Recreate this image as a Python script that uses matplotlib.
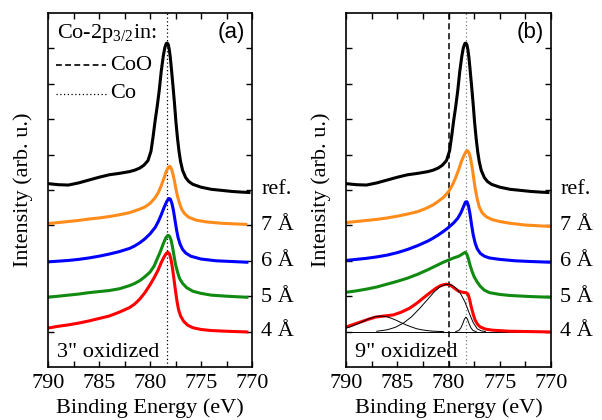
import matplotlib
matplotlib.use("Agg")
import matplotlib.pyplot as plt
from matplotlib.ticker import MultipleLocator

plt.rcParams['font.family'] = ['Liberation Serif', 'DejaVu Serif']
plt.rcParams['mathtext.fontset'] = 'custom'
plt.rcParams['mathtext.rm'] = 'Liberation Serif'
plt.rcParams['mathtext.it'] = 'Liberation Serif'

# ---------------- data (binding energy eV, intensity arb. u.) ----------------
ref_E = [790.0, 789.0, 788.0, 787.0, 786.0, 785.0, 784.0, 783.0, 782.0, 781.5, 781.0,
         780.6, 780.2, 779.9, 779.7, 779.5, 779.3, 779.1, 778.9, 778.7, 778.55, 778.4,
         778.3, 778.2, 778.1, 778.0, 777.9, 777.75, 777.6, 777.45, 777.3, 777.15, 777.0,
         776.8, 776.5, 776.2, 775.8, 775.0, 774.0, 773.0, 772.0, 771.0, 770.3]
ref_I = [5.18, 5.15, 5.14, 5.20, 5.28, 5.36, 5.43, 5.47, 5.52, 5.56, 5.62,
         5.70, 5.83, 6.10, 6.50, 6.95, 7.35, 7.80, 8.35, 8.78, 9.02, 9.14,
         9.15, 9.10, 8.95, 8.72, 8.42, 7.95, 7.45, 6.90, 6.45, 6.08, 5.80,
         5.55, 5.35, 5.24, 5.16, 5.08, 5.02, 4.99, 4.96, 4.94, 4.93]

# panel (a): 3" oxidized
a7_E = [790.0, 789.0, 788.0, 787.0, 786.0, 785.0, 784.0, 783.0, 782.0, 781.5, 781.0,
        780.5, 780.0, 779.5, 779.2, 778.9, 778.6, 778.4, 778.2, 778.05, 777.9, 777.75,
        777.6, 777.45, 777.3, 777.1, 776.9, 776.6, 776.2, 775.5, 774.5, 773.0, 771.5, 770.6]
a7_I = [4.05, 4.08, 4.11, 4.14, 4.18, 4.21, 4.25, 4.30, 4.36, 4.41, 4.46,
        4.52, 4.62, 4.78, 4.92, 5.12, 5.36, 5.53, 5.64, 5.67, 5.60, 5.45,
        5.25, 5.02, 4.82, 4.62, 4.46, 4.33, 4.23, 4.15, 4.10, 4.06, 4.04, 4.03]
a6_E = [790.0, 789.0, 788.0, 787.0, 786.0, 785.0, 784.0, 783.0, 782.0, 781.5, 781.0,
        780.5, 780.0, 779.5, 779.2, 778.9, 778.6, 778.35, 778.15, 778.0, 777.85, 777.7,
        777.55, 777.4, 777.25, 777.05, 776.8, 776.5, 776.0, 775.0, 773.5, 772.0, 770.5]
a6_I = [2.97, 2.99, 3.01, 3.04, 3.08, 3.13, 3.19, 3.26, 3.35, 3.42, 3.51,
        3.62, 3.76, 3.94, 4.10, 4.30, 4.52, 4.68, 4.76, 4.74, 4.62, 4.42,
        4.15, 3.88, 3.66, 3.47, 3.32, 3.22, 3.13, 3.05, 3.00, 2.98, 2.96]
a5_E = [790.0, 789.0, 788.0, 787.0, 786.0, 785.0, 784.0, 783.0, 782.0, 781.5, 781.0,
        780.5, 780.0, 779.6, 779.3, 779.0, 778.7, 778.45, 778.25, 778.1, 777.95, 777.8,
        777.65, 777.5, 777.3, 777.1, 776.8, 776.4, 775.8, 775.0, 774.0, 772.5, 770.5]
a5_I = [1.97, 2.00, 2.03, 2.06, 2.10, 2.13, 2.16, 2.21, 2.30, 2.36, 2.44,
        2.55, 2.68, 2.85, 3.05, 3.25, 3.48, 3.65, 3.72, 3.70, 3.60, 3.40,
        3.15, 2.90, 2.68, 2.50, 2.36, 2.24, 2.14, 2.08, 2.03, 2.00, 1.97]
a4_E = [790.0, 789.0, 788.0, 787.0, 786.0, 785.0, 784.0, 783.0, 782.0, 781.5, 781.0,
        780.5, 780.0, 779.6, 779.2, 778.9, 778.6, 778.4, 778.25, 778.1, 777.95, 777.8,
        777.65, 777.5, 777.35, 777.2, 777.0, 776.7, 776.3, 775.8, 775.0, 774.0, 772.5, 770.5]
a4_I = [1.10, 1.15, 1.19, 1.24, 1.30, 1.37, 1.44, 1.55, 1.68, 1.78, 1.92,
        2.10, 2.32, 2.52, 2.74, 2.95, 3.12, 3.21, 3.24, 3.20, 3.05, 2.80,
        2.48, 2.15, 1.85, 1.62, 1.44, 1.29, 1.18, 1.11, 1.06, 1.03, 1.01, 0.99]

# panel (b): 9" oxidized
b7_E = [790.0, 789.0, 788.0, 787.0, 786.0, 785.0, 784.0, 783.0, 782.2, 781.5, 781.0,
        780.5, 780.0, 779.6, 779.3, 779.0, 778.75, 778.5, 778.3, 778.15, 778.0, 777.85,
        777.7, 777.55, 777.4, 777.2, 777.0, 776.7, 776.3, 775.7, 775.0, 774.0, 772.5, 770.1]
b7_I = [4.08, 4.11, 4.14, 4.17, 4.21, 4.26, 4.32, 4.39, 4.48, 4.58, 4.68,
        4.79, 4.95, 5.15, 5.35, 5.58, 5.80, 5.97, 6.08, 6.11, 6.05, 5.90,
        5.65, 5.35, 5.05, 4.75, 4.52, 4.35, 4.24, 4.16, 4.11, 4.06, 4.01, 3.97]
b6_E = [790.0, 789.0, 788.0, 787.0, 786.0, 785.0, 784.0, 783.0, 782.0, 781.5, 781.0,
        780.5, 780.0, 779.5, 779.1, 778.8, 778.55, 778.35, 778.2, 778.05, 777.9, 777.75,
        777.6, 777.4, 777.2, 776.9, 776.5, 776.0, 775.0, 773.5, 772.0, 770.1]
b6_I = [3.01, 3.04, 3.07, 3.11, 3.16, 3.23, 3.32, 3.43, 3.56, 3.64, 3.73,
        3.83, 3.94, 4.07, 4.20, 4.35, 4.52, 4.66, 4.67, 4.55, 4.32, 4.02,
        3.75, 3.50, 3.34, 3.21, 3.13, 3.08, 3.04, 3.00, 2.98, 2.96]
b5_E = [790.0, 789.0, 788.0, 787.0, 786.0, 785.0, 784.0, 783.0, 782.0, 781.5, 781.0,
        780.5, 780.0, 779.5, 779.0, 778.7, 778.5, 778.35, 778.2, 778.05, 777.9, 777.7,
        777.5, 777.2, 776.9, 776.5, 776.0, 775.0, 774.0, 772.0, 770.1]
b5_I = [2.11, 2.15, 2.20, 2.26, 2.34, 2.42, 2.51, 2.62, 2.75, 2.82, 2.89,
        2.96, 3.02, 3.08, 3.13, 3.18, 3.22, 3.24, 3.18, 3.05, 2.88, 2.70,
        2.55, 2.40, 2.28, 2.17, 2.10, 2.05, 2.02, 1.99, 1.97]
b4_E = [790.0, 789.3, 788.6, 787.8, 787.1, 786.3, 785.4, 784.6, 783.8, 783.1, 782.5,
        781.8, 781.2, 780.7, 780.2, 779.8, 779.4, 779.0, 778.6, 778.3, 778.1, 777.95,
        777.8, 777.6, 777.4, 777.15, 776.9, 776.4, 775.7, 774.0, 772.0, 770.1]
b4_I = [1.13, 1.20, 1.27, 1.35, 1.41, 1.44, 1.47, 1.55, 1.66, 1.80, 1.94,
        2.10, 2.23, 2.31, 2.34, 2.31, 2.22, 2.14, 2.11, 2.10, 2.06, 1.92,
        1.72, 1.50, 1.32, 1.20, 1.13, 1.07, 1.04, 1.01, 1.00, 0.99]

# fit components for 4 A (panel b)
fit_base = 1.0
sat_E = [790.0, 789.6, 789.1, 788.6, 788.1, 787.6, 787.1, 786.6, 786.1, 785.6, 785.1,
         784.6, 784.1, 783.6, 783.1, 782.6, 782.1, 781.6, 781.1, 780.5]
sat_I = [1.10, 1.13, 1.19, 1.25, 1.32, 1.38, 1.425, 1.44, 1.425, 1.38, 1.32,
         1.25, 1.185, 1.13, 1.08, 1.05, 1.03, 1.014, 1.007, 1.00]
oxo_E = [787.0, 786.0, 785.2, 784.4, 783.6, 782.8, 782.0, 781.4, 780.9, 780.4, 780.0,
         779.6, 779.2, 778.8, 778.4, 778.0, 777.6, 777.2, 776.8, 776.4]
oxo_I = [1.01, 1.05, 1.12, 1.24, 1.42, 1.66, 1.92, 2.12, 2.25, 2.32, 2.34,
         2.30, 2.21, 2.06, 1.84, 1.54, 1.26, 1.08, 1.02, 1.00]
met_E = [779.3, 779.0, 778.8, 778.6, 778.45, 778.3, 778.15, 778.0, 777.8, 777.6, 777.3]
met_I = [1.00, 1.03, 1.10, 1.23, 1.35, 1.41, 1.35, 1.23, 1.10, 1.03, 1.00]

Co_line = 778.3
CoO_line = 780.0
labels = ['ref.', '7 Å', '6 Å', '5 Å', '4 Å']
label_y = [5.0, 4.0, 2.97, 1.97, 0.99]

colors = {'ref': 'black', '7': '#ff8c1a', '6': '#0000ff', '5': '#118a11', '4': '#ff0000'}

fig = plt.figure(figsize=(6.02, 4.20), dpi=100)
axA = fig.add_axes([48/602, 53/420, 204/602, 354/420])
axB = fig.add_axes([346/602, 53/420, 205/602, 354/420])

lw = 2.2
FS = 16


def style(ax):
    ax.set_xlim(790, 770)
    ax.set_ylim(0, 10)
    ax.xaxis.set_major_locator(MultipleLocator(5))
    ax.xaxis.set_minor_locator(MultipleLocator(2.5))
    ax.set_yticks(range(1, 10))
    ax.set_yticklabels([])
    ax.tick_params(which='both', direction='in', top=True, right=True, length=4,
                   width=1.0, labelsize=FS, pad=5)
    for s in ax.spines.values():
        s.set_linewidth(1.2)
    ax.set_xlabel('Binding Energy (eV)', fontsize=FS, labelpad=4)
    ax.set_ylabel('Intensity (arb. u.)', fontsize=FS, labelpad=6)
    for lab, yv in zip(labels, label_y):
        ax.text(1.045, yv / 10.0, lab, transform=ax.transAxes, fontsize=FS,
                va='center', ha='left')


# panel (a)
axA.axvline(Co_line, color='black', ls=(0, (1, 2)), lw=0.9, zorder=1)
axA.plot(ref_E, ref_I, color=colors['ref'], lw=lw)
axA.plot(a7_E, a7_I, color=colors['7'], lw=lw)
axA.plot(a6_E, a6_I, color=colors['6'], lw=lw)
axA.plot(a5_E, a5_I, color=colors['5'], lw=lw)
axA.plot(a4_E, a4_I, color=colors['4'], lw=lw)
style(axA)
axA.text(0.045, 0.93, r'Co-2p$_{3/2}$in:', transform=axA.transAxes, fontsize=FS,
         va='baseline', ha='left')
axA.plot([0.04, 0.285], [0.852, 0.852], transform=axA.transAxes, color='black',
         ls=(0, (3.5, 2)), lw=1.2)
axA.text(0.305, 0.852, 'CoO', transform=axA.transAxes, fontsize=FS, va='center', ha='left')
axA.plot([0.04, 0.285], [0.772, 0.772], transform=axA.transAxes, color='black',
         ls=(0, (1, 2)), lw=0.9)
axA.text(0.305, 0.772, 'Co', transform=axA.transAxes, fontsize=FS, va='center', ha='left')
axA.text(0.965, 0.93, '(a)', transform=axA.transAxes, fontsize=FS, va='baseline',
         ha='right', family=['Liberation Sans', 'DejaVu Sans'])
axA.text(0.045, 0.028, '3" oxidized', transform=axA.transAxes, fontsize=FS,
         va='baseline', ha='left')

# panel (b)
axB.axvline(Co_line, color='gray', ls=(0, (1, 2)), lw=0.9, zorder=1)
axB.axvline(CoO_line, color='black', ls=(0, (4, 2.5)), lw=1.1, zorder=1)
axB.axhline(fit_base, color='black', lw=0.7, zorder=1)
axB.plot(ref_E, ref_I, color=colors['ref'], lw=lw)
axB.plot(b7_E, b7_I, color=colors['7'], lw=lw)
axB.plot(b6_E, b6_I, color=colors['6'], lw=lw)
axB.plot(b5_E, b5_I, color=colors['5'], lw=lw)
axB.plot(b4_E, b4_I, color=colors['4'], lw=lw)
axB.plot(sat_E, sat_I, color='black', lw=0.7)
axB.plot(oxo_E, oxo_I, color='black', lw=0.7)
axB.plot(met_E, met_I, color='black', lw=0.7)
style(axB)
axB.text(0.965, 0.93, '(b)', transform=axB.transAxes, fontsize=FS, va='baseline',
         ha='right', family=['Liberation Sans', 'DejaVu Sans'])
axB.text(0.045, 0.028, '9" oxidized', transform=axB.transAxes, fontsize=FS,
         va='baseline', ha='left')

fig.savefig('out.png', dpi=100)
